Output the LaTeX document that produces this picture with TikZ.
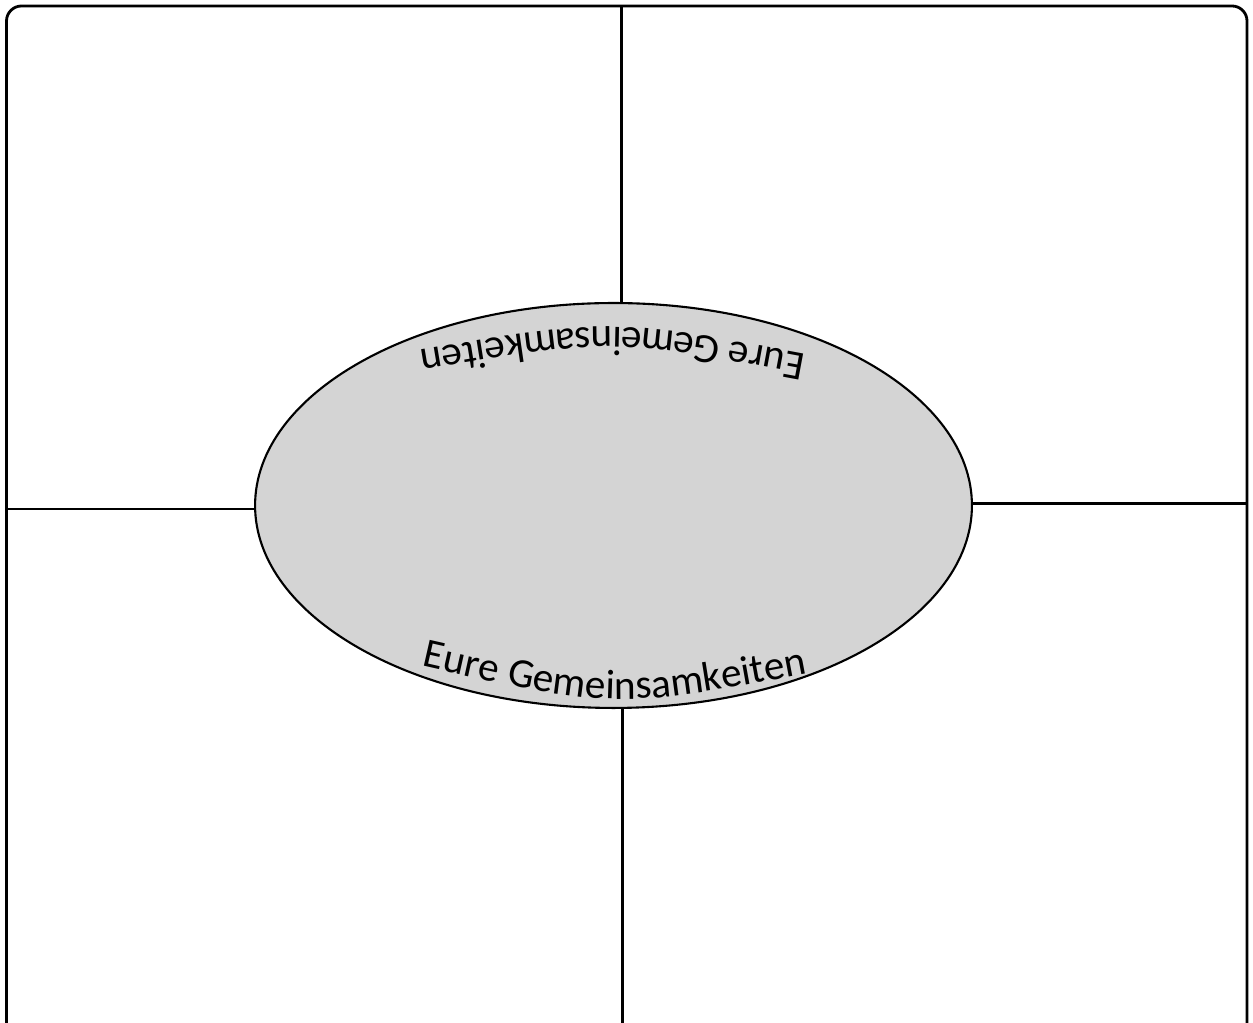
\documentclass[tikz,border=0pt]{standalone}
\usepackage{fontspec}
\setmainfont{Carlito}
\usetikzlibrary{shapes.geometric,decorations.text}
\definecolor{ellfill}{RGB}{212,212,212}
\tikzset{
  frame/.style={draw=black, line width=1.6pt, rounded corners=0.3cm},
  divider/.style={draw=black, line width=1.2pt},
  centre/.style={ellipse, draw=black, line width=1.2pt, fill=ellfill, inner sep=0pt,
    minimum width=14.34cm, minimum height=8.1cm},
  curvedtext/.style={decorate, decoration={text along path, text align=center,
    text={|\fontsize{23.5pt}{23.5pt}\selectfont|#1}}}
}
\begin{document}
\begin{tikzpicture}[x=0.02cm,y=0.02cm]
\useasboundingbox (0,0) rectangle (1253,1023);
\draw[frame] (6.5,-20) rectangle (1247,1017);
\node[centre] (E) at (613.5,517.5) {};
\coordinate (t) at (621.5,1017);
\coordinate (l) at (6.5,514);
\coordinate (r) at (1247,519.5);
\coordinate (b) at (622.5,-10);
\draw[divider] (t) -- (E.north -| t);
\draw[divider] (l) -- (E.west |- l);
\draw[divider] (E.east |- r) -- (r);
\draw[divider] (E.south -| b) -- (b);
\path[curvedtext={Eure Gemeinsamkeiten}] (405,361) .. controls (615,313) .. (825,353);
\path[curvedtext={Eure Gemeinsamkeiten}] (815,667) .. controls (612,705) .. (410,671);
\end{tikzpicture}
\end{document}
